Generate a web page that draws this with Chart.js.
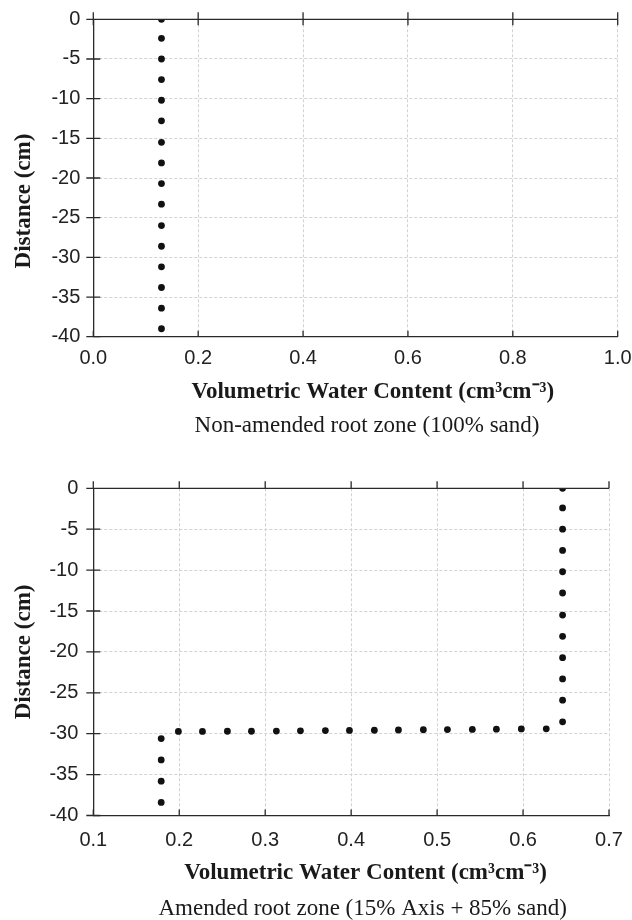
<!DOCTYPE html>
<html>
<head>
<meta charset="utf-8">
<script src="https://cdn.jsdelivr.net/npm/chart.js@4/dist/chart.umd.min.js"></script>
<style>
  body { margin: 0; background: #fff; }
  canvas { position: absolute; left: 0; }
  #c0 { top: 0; }
  #c1 { top: 460px; }
</style>
</head>
<body>
<canvas id="c0" width="632" height="440"></canvas>
<canvas id="c1" width="632" height="460"></canvas>
<script>
// Non-amended root zone (100% sand)
var sandVwc   = [0.13, 0.13, 0.13, 0.13, 0.13, 0.13, 0.13, 0.13, 0.13, 0.13, 0.13, 0.13, 0.13, 0.13, 0.13, 0.13];
var sandDepth = [0, -2.4, -5.0, -7.6, -10.2, -12.8, -15.5, -18.1, -20.7, -23.3, -26.0, -28.6, -31.2, -33.8, -36.4, -39.0];

// Amended root zone (15% Axis + 85% sand)
var amendVwc   = [0.646, 0.646, 0.646, 0.646, 0.646, 0.646, 0.646, 0.646, 0.646, 0.646, 0.646, 0.646,
                  0.627, 0.598, 0.569, 0.541, 0.512, 0.484, 0.455, 0.427, 0.398, 0.370, 0.341, 0.313, 0.284, 0.256, 0.227, 0.199,
                  0.179, 0.179, 0.179, 0.179];
var amendDepth = [0, -2.4, -5.0, -7.6, -10.2, -12.8, -15.5, -18.1, -20.7, -23.3, -25.9, -28.55,
                  -29.40, -29.42, -29.45, -29.48, -29.50, -29.52, -29.55, -29.58, -29.60, -29.62, -29.65, -29.68, -29.70, -29.70, -29.72, -29.72,
                  -30.6, -33.2, -35.8, -38.4];

var xTicks0 = { min: 0.0, max: 1.0, step: 0.2 };
var xTicks1 = { min: 0.1, max: 0.7, step: 0.1 };
var yTicks  = { min: -40, max: 0, step: 5 };

var xTitle = 'Volumetric Water Content (cm\u00b3cm\u207b\u00b3)';
var yTitle = 'Distance (cm)';
var captions = ['Non-amended root zone (100% sand)', 'Amended root zone (15% Axis + 85% sand)'];

var SANS = "'Liberation Sans', Arial, sans-serif";
var SERIF = "'Liberation Serif', 'Times New Roman', serif";
function nb(n) { return '\u00a0'.repeat(n); }

// top border line plus tick marks drawn the way the original figure has them
var frameLines = {
    id: 'frameLines',
    afterDraw: function(chart, args, opts) {
        var ctx = chart.ctx, a = chart.chartArea, x = chart.scales.x, y = chart.scales.y;
        ctx.save();
        ctx.strokeStyle = '#2a2a2a'; ctx.lineWidth = 1.3;
        ctx.beginPath();
        ctx.moveTo(a.left, a.top); ctx.lineTo(a.right, a.top);
        x.ticks.forEach(function(t) {
            var px = x.getPixelForValue(t.value);
            ctx.moveTo(px, a.bottom); ctx.lineTo(px, a.bottom - 6);
            ctx.moveTo(px, a.top - 7); ctx.lineTo(px, a.top + opts.topIn);
        });
        y.ticks.forEach(function(t) {
            var py = y.getPixelForValue(t.value);
            ctx.moveTo(a.left - 7, py); ctx.lineTo(a.left + 7, py);
        });
        ctx.stroke();
        ctx.restore();
    }
};

function makeChart(id, vwc, depth, xt, o) {
    var pts = vwc.map(function(v, i) { return { x: v, y: depth[i] }; });
    // the tick gap is made with an invisible tick mark so the label overflow padding stays small
    var gridX = { color: '#d2d2d2', drawTicks: true, tickLength: o.xTickPad, tickColor: 'rgba(0,0,0,0)' };
    var gridY = { color: '#d2d2d2', drawTicks: true, tickLength: o.yTickPad, tickColor: 'rgba(0,0,0,0)' };
    return new Chart(document.getElementById(id), {
        type: 'scatter',
        data: { datasets: [{ data: pts, backgroundColor: '#111', borderColor: '#111', pointRadius: 3.4, borderWidth: 0 }] },
        plugins: [frameLines],
        options: {
            responsive: false, animation: false, devicePixelRatio: 1,
            layout: { padding: o.pad },
            plugins: {
                legend: { display: false }, tooltip: { enabled: false },
                frameLines: { topIn: o.topIn },
                title: {
                    display: true, position: 'bottom', fullSize: false,
                    text: nb(o.capShift) + o.caption, color: '#1a1a1a',
                    font: { family: SERIF, size: 23, weight: 'normal', lineHeight: 1 },
                    padding: { top: o.capPad, bottom: 0 }
                }
            },
            scales: {
                x: {
                    type: 'linear', min: xt.min, max: xt.max,
                    afterFit: function(s) { s.height = o.xH; },
                    ticks: { stepSize: xt.step, padding: 0, color: '#222',
                             font: { family: SANS, size: 20, lineHeight: 1.2 },
                             callback: function(v) { return v.toFixed(1); } },
                    grid: gridX,
                    border: { color: '#2a2a2a', width: 1.3, dash: [3, 2] },
                    title: { display: true, text: nb(o.xShift) + xTitle, color: '#1a1a1a',
                             font: { family: SERIF, size: 23, weight: 'bold', lineHeight: 1 },
                             padding: { top: 0, bottom: 0 } }
                },
                y: {
                    type: 'linear', min: yTicks.min, max: yTicks.max,
                    afterFit: function(s) { s.width = 93.3; },
                    ticks: { stepSize: yTicks.step, padding: 0, color: '#222',
                             font: { family: SANS, size: 20, lineHeight: 1.2 },
                             callback: function(v) { return String(v); } },
                    grid: gridY,
                    border: { color: '#2a2a2a', width: 1.3, dash: [3, 2] },
                    title: { display: true, text: yTitle + nb(o.yShift), color: '#1a1a1a',
                             font: { family: SERIF, size: 23, weight: 'bold', lineHeight: 1 },
                             padding: { top: 13, bottom: 0 } }
                }
            }
        }
    });
}

makeChart('c0', sandVwc, sandDepth, xTicks0, {
    pad: { left: 0, top: 19.3, right: 14.3, bottom: 2.5 },
    topIn: 6, xH: 67.1, xTickPad: 10, yTickPad: 13, capPad: 10.7,
    caption: captions[0], capShift: 4, xShift: 6, yShift: 8
});
makeChart('c1', amendVwc, amendDepth, xTicks1, {
    pad: { left: 0, top: 28.3, right: 23, bottom: 0 },
    topIn: 0, xH: 69.5, xTickPad: 12.5, yTickPad: 15, capPad: 12,
    caption: captions[1], capShift: 4, xShift: 5, yShift: 0
});
</script>
</body>
</html>
